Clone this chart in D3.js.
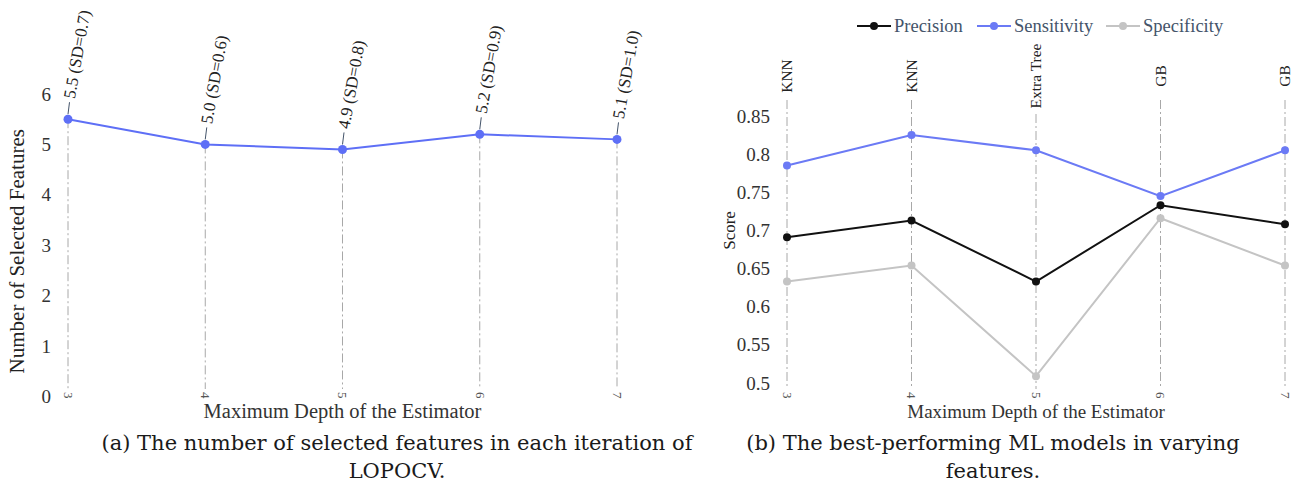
<!DOCTYPE html>
<html>
<head>
<meta charset="utf-8">
<script src="https://cdn.jsdelivr.net/npm/d3@7"></script>
<style>
  body { margin: 0; background: #fff; }
  svg { display: block; }
</style>
</head>
<body>
<div id="chart"></div>
<script>
// Two panels: (a) selected features per depth, (b) best models per depth

const width = 1297,
    height = 487;

// shared x categories (maximum depth)
const depths = [3, 4, 5, 6, 7];

// panel (a)
const featMean = [5.5, 5.0, 4.9, 5.2, 5.1];
const featSD = [0.7, 0.6, 0.8, 0.9, 1.0];
const ticksA = [0, 1, 2, 3, 4, 5, 6];

// panel (b)
const models = ["KNN", "KNN", "Extra Tree", "GB", "GB"];
const precision = [0.691, 0.713, 0.633, 0.733, 0.708];
const sensitivity = [0.785, 0.825, 0.805, 0.745, 0.805];
const specificity = [0.633, 0.654, 0.509, 0.716, 0.654];
const ticksB = [0.5, 0.55, 0.6, 0.65, 0.7, 0.75, 0.8, 0.85];
const seriesNames = ["Precision", "Sensitivity", "Specificity"];
const seriesColors = ["#111111", "#6b7af5", "#c4c4c4"];

const serif = "Liberation Serif";
const dropDash = "9,3,2,3";
const axisY = 389;

const svg = d3.select("#chart")
  .append("svg")
  .attr("width", width)
  .attr("height", height)
  .attr("viewBox", [0, 0, width, height]);

// ---------- panel (a) ----------
const xA = d3.scaleLinear().domain([3, 7]).range([68, 617]);
const yA = d3.scaleLinear().domain([0, 6]).range([396.5, 94]);
const dataA = depths.map((d, i) => ({ x: d, v: featMean[i], sd: featSD[i] }));

// y axis: labels only
svg.append("g")
  .attr("transform", `translate(${xA(3)},0)`)
  .call(d3.axisLeft(yA).tickValues(ticksA).tickSize(0).tickPadding(17).tickFormat(d3.format("d")))
  .attr("font-family", serif).attr("font-size", 19)
  .call(g => g.select(".domain").remove())
  .call(g => g.selectAll("text").attr("fill", "#333"));

// x axis: rotated labels
svg.append("g")
  .attr("transform", `translate(0,${axisY})`)
  .call(d3.axisBottom(xA).tickValues(depths).tickSize(0).tickFormat(d3.format("d")))
  .attr("font-family", serif).attr("font-size", 13)
  .call(g => g.select(".domain").remove())
  .call(g => g.selectAll("text")
    .attr("transform", "rotate(90)")
    .attr("x", 3).attr("y", 0).attr("dy", "0.35em")
    .attr("text-anchor", "start")
    .attr("fill", "#555"));

// drop lines
svg.append("g").selectAll("line")
  .data(dataA)
  .join("line")
  .attr("x1", d => xA(d.x)).attr("x2", d => xA(d.x))
  .attr("y1", d => yA(d.v)).attr("y2", axisY)
  .attr("stroke", "#a8a8a8")
  .attr("stroke-dasharray", dropDash);

svg.append("path")
  .datum(dataA)
  .attr("fill", "none")
  .attr("stroke", "#5e6ff6")
  .attr("stroke-width", 2)
  .attr("d", d3.line().x(d => xA(d.x)).y(d => yA(d.v)));

svg.append("g").selectAll("circle")
  .data(dataA)
  .join("circle")
  .attr("cx", d => xA(d.x))
  .attr("cy", d => yA(d.v))
  .attr("r", 4.5)
  .attr("fill", "#5e6ff6");

// leader lines + labels
svg.append("g").selectAll("line")
  .data(dataA)
  .join("line")
  .attr("x1", d => xA(d.x)).attr("x2", d => xA(d.x) + 1.5)
  .attr("y1", d => yA(d.v) - 5).attr("y2", d => yA(d.v) - 17)
  .attr("stroke", "#44546a");

svg.append("g").selectAll("text")
  .data(dataA)
  .join("text")
  .attr("transform", d => `translate(${xA(d.x) + 1},${yA(d.v) - 21}) rotate(-80)`)
  .attr("dy", "0.35em")
  .attr("fill", "#222")
  .attr("font-family", serif)
  .attr("font-size", 17)
  .text(d => `${d.v.toFixed(1)} (SD=${d.sd.toFixed(1)})`);

svg.append("text")
  .attr("transform", `translate(24,${(yA(0) + yA(6)) / 2 + 6}) rotate(-90)`)
  .attr("text-anchor", "middle")
  .attr("fill", "#222")
  .attr("font-family", serif)
  .attr("font-size", 21)
  .text("Number of Selected Features");

svg.append("text")
  .attr("x", xA(5))
  .attr("y", 418)
  .attr("text-anchor", "middle")
  .attr("fill", "#333")
  .attr("font-family", serif)
  .attr("font-size", 20.5)
  .text("Maximum Depth of the Estimator");

// ---------- panel (b) ----------
const xB = d3.scaleLinear().domain([3, 7]).range([787, 1285]);
const yB = d3.scaleLinear().domain([0.5, 0.85]).range([383, 116]);
const seriesB = [precision, sensitivity, specificity].map((vals, k) => ({
  name: seriesNames[k],
  color: seriesColors[k],
  values: depths.map((d, i) => ({ x: d, v: vals[i] }))
}));

svg.append("g")
  .attr("transform", `translate(${xB(3)},0)`)
  .call(d3.axisLeft(yB).tickValues(ticksB).tickSize(0).tickPadding(17).tickFormat(d => String(+d.toFixed(2))))
  .attr("font-family", serif).attr("font-size", 19)
  .call(g => g.select(".domain").remove())
  .call(g => g.selectAll("text").attr("fill", "#333"));

svg.append("g")
  .attr("transform", `translate(0,${axisY})`)
  .call(d3.axisBottom(xB).tickValues(depths).tickSize(0).tickFormat(d3.format("d")))
  .attr("font-family", serif).attr("font-size", 13)
  .call(g => g.select(".domain").remove())
  .call(g => g.selectAll("text")
    .attr("transform", "rotate(90)")
    .attr("x", 3).attr("y", 0).attr("dy", "0.35em")
    .attr("text-anchor", "start")
    .attr("fill", "#555"));

// model labels on top, centred at y=76
svg.append("g").selectAll("text")
  .data(depths.map((d, i) => ({ x: d, m: models[i] })))
  .join("text")
  .attr("transform", d => `translate(${xB(d.x)},76) rotate(-90)`)
  .attr("text-anchor", "middle")
  .attr("dy", "0.35em")
  .attr("fill", "#222")
  .attr("font-family", serif)
  .attr("font-size", 15.5)
  .text(d => d.m);

svg.append("g").selectAll("line")
  .data(depths)
  .join("line")
  .attr("x1", d => xB(d)).attr("x2", d => xB(d))
  .attr("y1", (d, i) => Math.max(100, 80 + models[i].length * 3.4)).attr("y2", axisY)
  .attr("stroke", "#a8a8a8")
  .attr("stroke-dasharray", dropDash);

const line = d3.line().x(d => xB(d.x)).y(d => yB(d.v));
const sg = svg.append("g").selectAll("g")
  .data(seriesB.slice().reverse())
  .join("g");

sg.append("path")
  .attr("fill", "none")
  .attr("stroke", d => d.color)
  .attr("stroke-width", 2)
  .attr("d", d => line(d.values));

sg.selectAll("circle")
  .data(d => d.values.map(p => ({ ...p, color: d.color })))
  .join("circle")
  .attr("cx", d => xB(d.x))
  .attr("cy", d => yB(d.v))
  .attr("r", 4)
  .attr("fill", d => d.color);

svg.append("text")
  .attr("transform", `translate(735,${yB(0.7)}) rotate(-90)`)
  .attr("text-anchor", "middle")
  .attr("fill", "#222")
  .attr("font-family", serif)
  .attr("font-size", 17)
  .text("Score");

svg.append("text")
  .attr("x", xB(5))
  .attr("y", 418)
  .attr("text-anchor", "middle")
  .attr("fill", "#333")
  .attr("font-family", serif)
  .attr("font-size", 19)
  .text("Maximum Depth of the Estimator");

// legend
const legendX = [857, 977, 1106];
seriesB.forEach((s, i) => {
  const g = svg.append("g").attr("transform", `translate(${legendX[i]},26)`);
  g.append("line").attr("x1", 0).attr("x2", 34).attr("stroke", s.color).attr("stroke-width", 2);
  g.append("circle").attr("cx", 17).attr("r", 4).attr("fill", s.color);
  g.append("text")
    .attr("x", 37).attr("dy", "0.35em")
    .attr("fill", "#44546a")
    .attr("font-family", serif)
    .attr("font-size", 18.5)
    .text(s.name);
});

// ---------- captions ----------
const captions = [
  { cx: 397, lines: ["(a) The number of selected features in each iteration of", "LOPOCV."] },
  { cx: 993, lines: ["(b) The best-performing ML models in varying", "features."] }
];
captions.forEach(c => {
  c.lines.forEach((l, i) => {
    svg.append("text")
      .attr("x", c.cx)
      .attr("y", 450 + i * 28)
      .attr("text-anchor", "middle")
      .attr("fill", "#1a1a1a")
      .attr("font-family", "DejaVu Serif")
      .attr("font-size", 21)
      .text(l);
  });
});
</script>
</body>
</html>
